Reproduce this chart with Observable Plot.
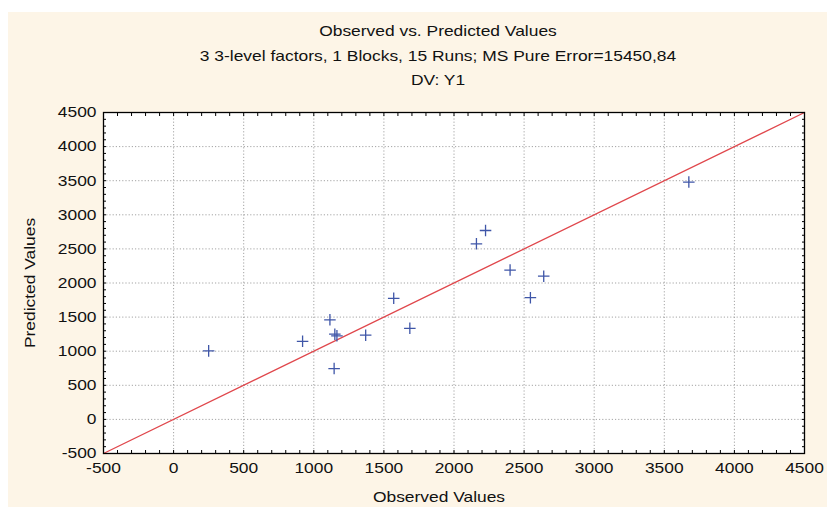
<!DOCTYPE html>
<html>
<head>
<meta charset="utf-8">
<script src="https://cdn.jsdelivr.net/npm/d3@7"></script>
<script src="https://cdn.jsdelivr.net/npm/@observablehq/plot@0.6"></script>
<style>
  html, body { margin: 0; padding: 0; background: #ffffff; width: 827px; height: 509px; overflow: hidden; }
  #panel { position: absolute; left: 8px; top: 12px; width: 819px; height: 495px; background: #fdf5e7;
           font-family: "Liberation Sans", Arial, sans-serif; color: #111; }
  .t { position: absolute; left: 0; width: 860px; text-align: center; font-size: 15px; line-height: 18px;
       transform: scaleX(1.16); transform-origin: 430px 0; }
  #chart { position: absolute; left: 0; top: 83px; }
</style>
</head>
<body>
<div id="panel">
  <div class="t" style="top:10px">Observed vs. Predicted Values</div>
  <div class="t" style="top:35px">3 3-level factors, 1 Blocks, 15 Runs; MS Pure Error=15450,84</div>
  <div class="t" style="top:59px">DV: Y1</div>
  <div id="chart"></div>
</div>
<script>
const observed  = [250, 920, 1115, 1150, 1165, 1145, 1370, 1570, 1685, 2160, 2225, 2400, 2640, 2545, 3675];
const predicted = [1005, 1145, 1460, 1250, 1225, 745, 1235, 1775, 1335, 2575, 2770, 2190, 2100, 1785, 3480];
const majorTicks = [-500, 0, 500, 1000, 1500, 2000, 2500, 3000, 3500, 4000, 4500];
const gridTicks = [0, 500, 1000, 1500, 2000, 2500, 3000, 3500, 4000];
const minorTicks = d3.range(-400, 4500, 100);
const fitX = [-500, 4500];
const fitY = [-500, 4500];
const xLabel = "Observed Values";
const yLabel = "Predicted Values";

const points = observed.map((o, i) => ({o, p: predicted[i]}));
const fit = fitX.map((x, i) => ({x, y: fitY[i]}));

const chart = Plot.plot({
  width: 819,
  height: 412,
  marginLeft: 95,
  marginRight: 23,
  marginTop: 17,
  marginBottom: 54,
  style: {background: "transparent", fontSize: "15px", fontFamily: "'Liberation Sans', Arial, sans-serif", color: "#111"},
  x: {domain: [-500, 4500]},
  y: {domain: [-500, 4500]},
  marks: [
    Plot.frame({fill: "white", stroke: "none"}),
    Plot.gridX(gridTicks, {stroke: "#9a9a9a", strokeOpacity: 0.9, strokeDasharray: "1.2,2"}),
    Plot.gridY(gridTicks, {stroke: "#9a9a9a", strokeOpacity: 0.9, strokeDasharray: "1.2,2"}),
    Plot.axisX(majorTicks, {anchor: "bottom", tickSize: 0, tickPadding: 9, tickFormat: d => String(d), label: null}),
    Plot.axisY(majorTicks, {anchor: "left", tickSize: 0, tickPadding: 7, tickFormat: d => String(d), label: null}),
    Plot.axisX(minorTicks, {anchor: "bottom", tickSize: -3, text: null, label: null, stroke: "#000"}),
    Plot.axisX(minorTicks, {anchor: "top", tickSize: -3, text: null, label: null, stroke: "#000"}),
    Plot.axisY(minorTicks, {anchor: "left", tickSize: -3, text: null, label: null, stroke: "#000"}),
    Plot.axisY(minorTicks, {anchor: "right", tickSize: -3, text: null, label: null, stroke: "#000"}),
    Plot.line(fit, {x: "x", y: "y", stroke: "#e0474c", strokeWidth: 1.3}),
    Plot.dot(points, {x: "o", y: "p", symbol: "plus", r: 3.8, stroke: "#3f56a8", strokeWidth: 1.3}),
    Plot.frame({stroke: "#000", strokeWidth: 1.3}),
    Plot.text([xLabel], {frameAnchor: "bottom", dy: 48, dx: -15, fontSize: 15, textAnchor: "middle"}),
    Plot.text([yLabel], {frameAnchor: "left", dx: -73, rotate: -90, fontSize: 15, textAnchor: "middle"})
  ]
});
// widen glyphs horizontally to match the reference's stretched text
chart.querySelectorAll("text").forEach(t => {
  const tr = t.getAttribute("transform");
  if (tr && /translate/.test(tr)) t.setAttribute("transform", tr + " scale(1.16,1)");
});
document.getElementById("chart").appendChild(chart);
</script>
</body>
</html>
